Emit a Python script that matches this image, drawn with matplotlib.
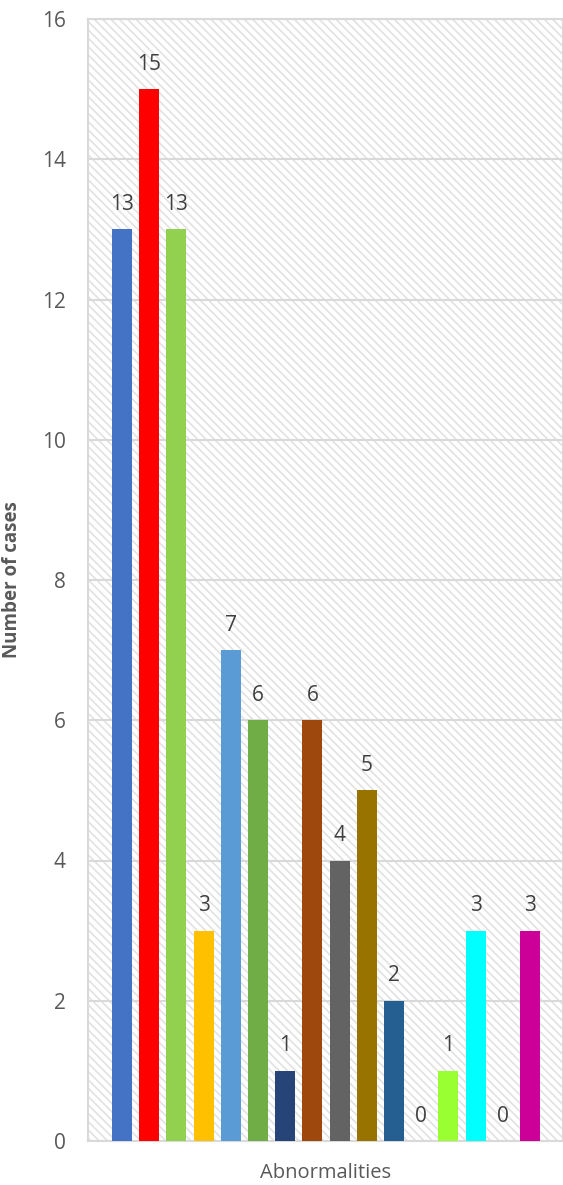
import matplotlib
matplotlib.use("Agg")
import matplotlib.pyplot as plt
from matplotlib.patches import Rectangle

# ---------------------------------------------------------
# data
# ---------------------------------------------------------
categories = [f"A{i}" for i in range(1, 17)]
cases = [13, 15, 13, 3, 7, 6, 1, 6, 4, 5, 2, 0, 1, 3, 0, 3]
bar_colors = [
    "#4472C4", "#FF0000", "#92D050", "#FFC000", "#5B9BD5", "#70AD47",
    "#264478", "#9E480E", "#636363", "#997300", "#255E91", "#43682B",
    "#99FF33", "#00FFFF", "#698ED0", "#CC0099",
]
y_ticks = [0, 2, 4, 6, 8, 10, 12, 14, 16]

plt.rcParams["font.family"] = ["Open Sans", "DejaVu Sans"]
plt.rcParams["hatch.linewidth"] = 1.2

fig = plt.figure(figsize=(5.63, 11.85), dpi=100)
ax = fig.add_axes([88 / 563, 44 / 1185, 475 / 563, 1122 / 1185])

# hatched background
bg = Rectangle((0, 0), 1, 1, transform=ax.transAxes, facecolor="white",
               edgecolor="#E2E2E2", hatch="\\\\\\\\", linewidth=0, zorder=0)
ax.add_patch(bg)

x = list(range(len(cases)))
bars = ax.bar(x, cases, width=0.735, color=bar_colors, zorder=3)

for xi, v in zip(x, cases):
    ax.annotate(str(v), (xi, v), xytext=(0, 18), textcoords="offset points",
                ha="center", va="center", fontsize=15, color="#404040", zorder=4)

ax.set_xlim(-1.25, 16.21)
ax.set_ylim(0, 16)
ax.set_yticks(y_ticks)
ax.set_xticks([])
ax.tick_params(axis="y", length=0, pad=16, labelsize=15, labelcolor="#595959")
ax.yaxis.grid(True, color="#D9D9D9", linewidth=1.5, zorder=1)
ax.set_axisbelow(True)

for side in ["left", "top", "bottom", "right"]:
    ax.spines[side].set_color("#D9D9D9")
    ax.spines[side].set_linewidth(1.5)

ax.set_ylabel("Number of cases", fontsize=13.5, fontweight="bold", color="#595959")
ax.yaxis.set_label_coords(-0.139, 0.5)
ax.set_xlabel("Abnormalities", fontsize=14.5, color="#595959", labelpad=16)

fig.savefig("out.png", dpi=100)
